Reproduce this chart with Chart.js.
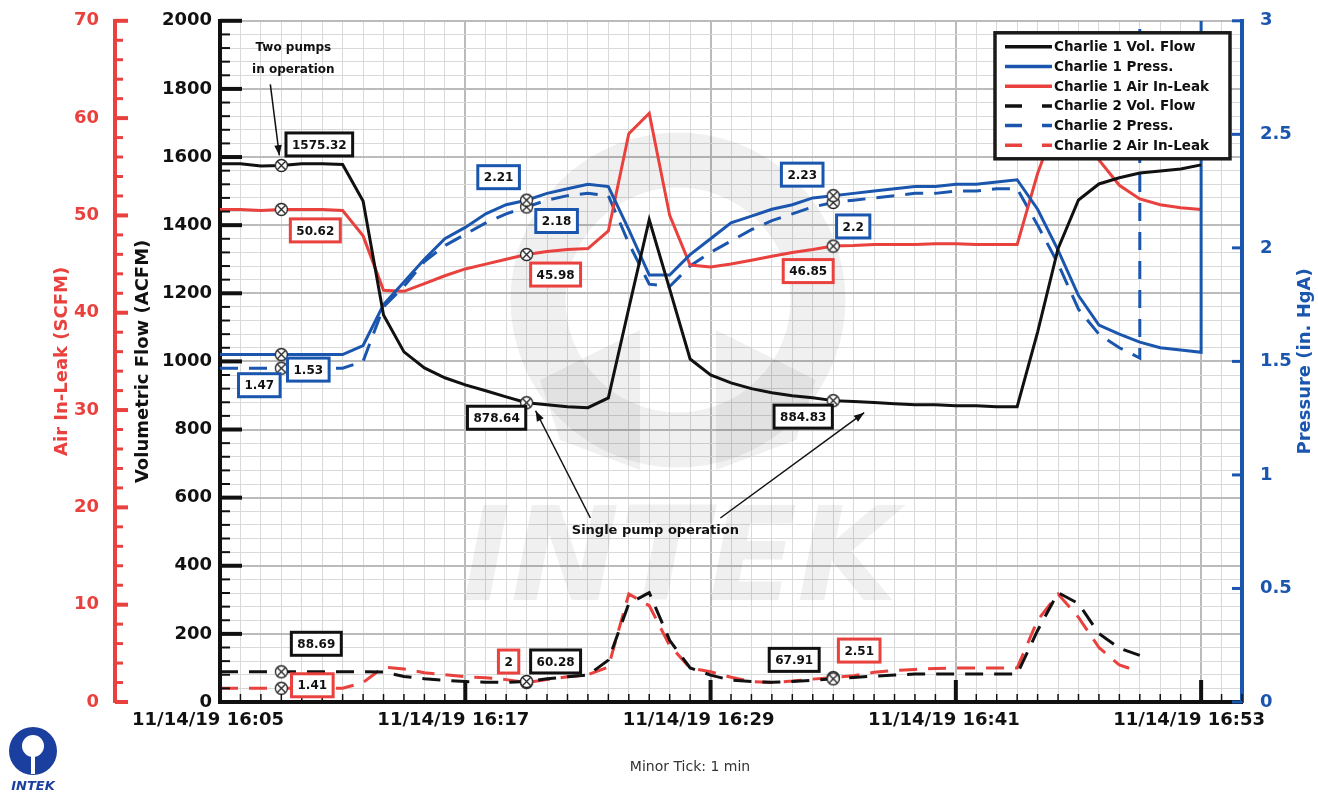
<!DOCTYPE html>
<html>
<head>
<meta charset="utf-8">
<script src="https://cdn.jsdelivr.net/npm/chart.js@4.4.1/dist/chart.umd.min.js"></script>
<style>
  body { margin: 0; background: #fff; }
  #wrap { position: relative; width: 1318px; height: 794px; }
</style>
</head>
<body>
<div id="wrap"><canvas id="chart"></canvas></div>
<script>
// minutes after 11/14/19 16:05
const minutes = [0,1,2,3,4,5,6,7,8,9,10,11,12,13,14,15,16,17,18,19,20,21,22,23,24,
  25,26,27,28,29,30,31,32,33,34,35,36,37,38,39,40,41,42,43,44,45,46,47,48]

const xTickLabels = ['11/14/19 16:05', '11/14/19 16:17', '11/14/19 16:29', '11/14/19 16:41', '11/14/19 16:53']

// Charlie 1 (minutes 0..48)
const c1Flow = [1580,1580,1574,1575.32,1580,1580,1578,1471,1136,1028,981,952,931,914,896,878.64,
  873,867,864,893,1156,1416,1212,1007,960,937,920,908,899,893,884.83,882,879,876,873,873,870,870,
  867,867,1086,1331,1474,1521,1539,1553,1559,1565,1577]
const c1Press = [1.53,1.53,1.53,1.53,1.53,1.53,1.53,1.57,1.75,1.85,1.95,2.04,2.09,2.15,2.19,2.21,
  2.24,2.26,2.28,2.27,2.08,1.88,1.88,1.97,2.04,2.11,2.14,2.17,2.19,2.22,2.23,2.24,2.25,2.26,2.27,
  2.27,2.28,2.28,2.29,2.30,2.17,1.99,1.79,1.66,1.62,1.585,1.56,1.55,1.54]
const c1Air = [50.6,50.6,50.5,50.62,50.6,50.6,50.5,47.9,42.3,42.2,43.0,43.8,44.5,45.0,45.5,45.98,
  46.3,46.5,46.6,48.4,58.4,60.5,50.0,44.9,44.7,45.0,45.4,45.8,46.2,46.5,46.85,46.9,47.0,47.0,47.0,
  47.1,47.1,47.0,47.0,47.0,54.3,60.0,59.5,55.7,53.1,51.7,51.1,50.8,50.6]
// pressure trace jumps off scale when the unit stops
const c1PressEndMin = [48]
const c1PressEndVal = [3]

// Charlie 2 (minutes 0..45)
const c2Flow = [88.69,88.69,88.69,88.69,88.69,88.69,88.69,88.69,88,75,68,64,60,58,58,60.28,
  68,74,79,123,289,321,181,100,79,64,60,58,60,64,67.91,72,76,79,82,82,82,82,82,82,
  210,321,289,201,158,137]
const c2Press = [1.47,1.47,1.47,1.47,1.47,1.47,1.47,1.50,1.74,1.83,1.94,2.01,2.06,2.11,2.15,2.18,
  2.21,2.23,2.24,2.23,2.02,1.84,1.83,1.92,1.98,2.03,2.08,2.12,2.15,2.18,2.2,2.21,2.22,2.23,2.24,
  2.24,2.25,2.25,2.26,2.26,2.10,1.93,1.73,1.62,1.56,1.515]
const c2Air = [1.41,1.41,1.41,1.41,1.41,1.41,1.41,2.0,3.6,3.4,3.0,2.8,2.6,2.5,2.3,2,
  2.3,2.6,2.8,3.6,11.1,9.9,5.8,3.5,3.1,2.55,2.1,2.0,2.15,2.35,2.51,2.7,3.05,3.25,3.35,3.45,
  3.5,3.5,3.5,3.5,8.4,11.1,8.7,5.6,3.8,3.1]
const c2PressEndMin = [45]
const c2PressEndVal = [3]

// minutes where values are tagged on the chart
const markIdx = [3, 15, 30]

const FONT = '"DejaVu Sans", Verdana, sans-serif'
const BLACK = '#111111'
const BLUE = '#1b56ae'
const RED = '#e8413e'
const GRID_MINOR = '#d9d9d9'
const GRID_MAJOR = '#bbbbbb'
const DASH = [18, 11]

Chart.defaults.font.family = FONT

function pts(xs, ys) {
  return ys.map((y, i) => ({x: xs[i], y: y}))
}

// crossed circle used for tagged points
const marker = document.createElement('canvas')
marker.width = 15
marker.height = 15
{
  let m = marker.getContext('2d')
  m.fillStyle = '#fff'
  m.strokeStyle = '#222'
  m.lineWidth = 1.3
  m.beginPath(); m.arc(7.5, 7.5, 6, 0, Math.PI * 2); m.fill(); m.stroke()
  m.beginPath()
  m.moveTo(3.3, 3.3); m.lineTo(11.7, 11.7)
  m.moveTo(11.7, 3.3); m.lineTo(3.3, 11.7)
  m.stroke()
}

function series(label, data, axis, color, dashed) {
  return {
    label: label,
    data: data,
    yAxisID: axis,
    borderColor: color,
    backgroundColor: color,
    borderWidth: 3,
    borderDash: dashed ? DASH : [],
    tension: 0,
    fill: false,
    pointRadius: c => markIdx.includes(c.dataIndex) ? 7 : 0,
    pointStyle: c => markIdx.includes(c.dataIndex) ? marker : 'circle',
    pointHoverRadius: 0,
  }
}

// tag boxes: [dataset, point, dx, dy]
const valueTags = [
  [0, 3, 38, -21], [2, 3, 34, 21], [1, 3, 27, 15], [4, 3, -22, 17], [3, 3, 35, -28], [5, 3, 31, -3],
  [1, 15, -28, -23], [4, 15, 30, 14], [2, 15, 29, 20], [0, 15, -30, 15], [5, 15, -18, -21], [3, 15, 29, -20],
  [1, 30, -31, -21], [4, 30, 20, 24], [2, 30, -25, 25], [0, 30, -30, 16], [3, 30, -39, -19], [5, 30, 26, -27]
]

function line(ctx, x1, y1, x2, y2) {
  ctx.beginPath(); ctx.moveTo(x1, y1); ctx.lineTo(x2, y2); ctx.stroke()
}

function arrow(ctx, x1, y1, x2, y2) {
  ctx.strokeStyle = BLACK
  ctx.fillStyle = BLACK
  ctx.lineWidth = 1.5
  line(ctx, x1, y1, x2, y2)
  let a = Math.atan2(y2 - y1, x2 - x1)
  ctx.beginPath()
  ctx.moveTo(x2, y2)
  ctx.lineTo(x2 - 11 * Math.cos(a - 0.35), y2 - 11 * Math.sin(a - 0.35))
  ctx.lineTo(x2 - 11 * Math.cos(a + 0.35), y2 - 11 * Math.sin(a + 0.35))
  ctx.closePath()
  ctx.fill()
}

const decorations = {
  id: 'decorations',
  beforeDatasetsDraw(chart) {
    const {ctx, chartArea: a} = chart
    // faint watermark logo
    ctx.save()
    ctx.beginPath(); ctx.rect(a.left, a.top, a.right - a.left, a.bottom - a.top); ctx.clip()
    ctx.strokeStyle = 'rgba(0,0,0,0.06)'
    ctx.fillStyle = 'rgba(0,0,0,0.06)'
    ctx.lineWidth = 55
    ctx.beginPath(); ctx.arc(678, 300, 140, 0, Math.PI * 2); ctx.stroke()
    ctx.beginPath()
    ctx.moveTo(540, 380); ctx.lineTo(640, 330); ctx.lineTo(640, 470); ctx.lineTo(560, 440)
    ctx.closePath(); ctx.fill()
    ctx.beginPath()
    ctx.moveTo(816, 380); ctx.lineTo(716, 330); ctx.lineTo(716, 470); ctx.lineTo(796, 440)
    ctx.closePath(); ctx.fill()
    ctx.font = 'italic bold 130px ' + FONT
    ctx.textAlign = 'center'
    ctx.textBaseline = 'alphabetic'
    ctx.fillText('INTEK', 680, 600)
    ctx.restore()
  },
  afterDatasetsDraw(chart) {
    const {ctx, chartArea: a, scales} = chart
    ctx.save()

    // inward tick marks
    const sx = scales.x
    ctx.strokeStyle = BLACK
    sx.ticks.forEach(t => {
      let px = sx.getPixelForValue(t.value)
      let major = t.value % 12 === 0
      ctx.lineWidth = major ? 4 : 1.5
      line(ctx, px, a.bottom, px, a.bottom - (major ? 22 : 8))
    })
    const sf = scales.yFlow
    sf.ticks.forEach(t => {
      let py = sf.getPixelForValue(t.value)
      let major = t.value % 200 === 0
      ctx.lineWidth = major ? 4 : 2
      line(ctx, a.left, py, a.left + (major ? 22 : 10), py)
    })
    const sa = scales.yAir
    ctx.strokeStyle = RED
    sa.ticks.forEach(t => {
      let py = sa.getPixelForValue(t.value)
      let major = t.value % 10 === 0
      ctx.lineWidth = major ? 4 : 3
      line(ctx, sa.right, py, sa.right + (major ? 13 : 8), py)
    })
    const sp = scales.yP
    ctx.strokeStyle = BLUE
    sp.ticks.forEach(t => {
      let py = sp.getPixelForValue(t.value)
      ctx.lineWidth = 3
      line(ctx, a.right, py, a.right - 10, py)
    })

    // value tags
    ctx.font = 'bold 12px ' + FONT
    ctx.textAlign = 'center'
    ctx.textBaseline = 'middle'
    valueTags.forEach(([di, pi, dx, dy]) => {
      let ds = chart.data.datasets[di]
      let el = chart.getDatasetMeta(di).data[pi]
      let txt = String(ds.data[pi].y)
      let w = ctx.measureText(txt).width + 12
      let h = 23
      let cx = el.x + dx, cy = el.y + dy
      ctx.fillStyle = '#fff'
      ctx.fillRect(cx - w / 2, cy - h / 2, w, h)
      ctx.strokeStyle = ds.borderColor
      ctx.lineWidth = 3
      ctx.strokeRect(cx - w / 2, cy - h / 2, w, h)
      ctx.fillStyle = BLACK
      ctx.fillText(txt, cx, cy + 1)
    })

    // text notes with arrows
    const p0 = chart.getDatasetMeta(0).data
    ctx.fillStyle = BLACK
    ctx.font = 'bold 12px ' + FONT
    ctx.fillText('Two pumps', p0[3].x + 12, p0[3].y - 118)
    ctx.fillText('in operation', p0[3].x + 12, p0[3].y - 96)
    arrow(ctx, p0[3].x - 11, p0[3].y - 81, p0[3].x - 2, p0[3].y - 10)

    let nx = sx.getPixelForValue(21.3), ny = sf.getPixelForValue(502)
    ctx.fillStyle = BLACK
    ctx.font = 'bold 13px ' + FONT
    ctx.fillText('Single pump operation', nx, ny)
    arrow(ctx, nx - 65, ny - 13, p0[15].x + 9, p0[15].y + 8)
    arrow(ctx, nx + 65, ny - 13, p0[30].x + 31, p0[30].y + 12)

    // legend box
    const lw = 235, lh = 126
    const lx = a.right - 12 - lw, ly = a.top + 12
    ctx.fillStyle = '#fff'
    ctx.fillRect(lx, ly, lw, lh)
    ctx.strokeStyle = '#1a1a1a'
    ctx.lineWidth = 3.5
    ctx.strokeRect(lx, ly, lw, lh)
    ctx.font = 'bold 13.5px ' + FONT
    ctx.textAlign = 'left'
    chart.data.datasets.forEach((ds, i) => {
      let yy = ly + 14 + i * 19.7
      ctx.strokeStyle = ds.borderColor
      ctx.lineWidth = 3.5
      ctx.setLineDash(ds.borderDash.length ? [17, 20] : [])
      line(ctx, lx + 10, yy, lx + 57, yy)
      ctx.setLineDash([])
      ctx.fillStyle = BLACK
      ctx.fillText(ds.label, lx + 59, yy + 1)
    })

    // right axis title, reading bottom to top
    ctx.save()
    ctx.translate(a.right + 63, (a.top + a.bottom) / 2)
    ctx.rotate(-Math.PI / 2)
    ctx.fillStyle = BLUE
    ctx.font = 'bold 18px ' + FONT
    ctx.textAlign = 'center'
    ctx.fillText('Pressure (in. HgA)', 0, 0)
    ctx.restore()

    // footer
    ctx.fillStyle = '#333'
    ctx.font = '14px ' + FONT
    ctx.textAlign = 'center'
    ctx.fillText('Minor Tick: 1 min', 690, 767)

    // small logo
    ctx.fillStyle = '#1b3f9e'
    ctx.beginPath(); ctx.arc(33, 751, 24, 0, Math.PI * 2); ctx.fill()
    ctx.fillStyle = '#fff'
    ctx.beginPath(); ctx.arc(33, 746, 11, 0, Math.PI * 2); ctx.fill()
    ctx.fillRect(31, 756, 4, 18)
    ctx.fillStyle = '#1b3f9e'
    ctx.font = 'italic bold 13px ' + FONT
    ctx.fillText('INTEK', 33, 787)

    ctx.restore()
  }
}

const datasets = [
  series('Charlie 1 Vol. Flow', pts(minutes, c1Flow), 'yFlow', BLACK, false),
  series('Charlie 1 Press.', pts(minutes, c1Press).concat(pts(c1PressEndMin, c1PressEndVal)), 'yP', BLUE, false),
  series('Charlie 1 Air In-Leak', pts(minutes, c1Air), 'yAir', RED, false),
  series('Charlie 2 Vol. Flow', pts(minutes, c2Flow), 'yFlow', BLACK, true),
  series('Charlie 2 Press.', pts(minutes, c2Press).concat(pts(c2PressEndMin, c2PressEndVal)), 'yP', BLUE, true),
  series('Charlie 2 Air In-Leak', pts(minutes, c2Air), 'yAir', RED, true),
]

const tickFont = {size: 18, weight: 'bold'}

new Chart(document.getElementById('chart'), {
  type: 'line',
  data: {datasets: datasets},
  plugins: [decorations],
  options: {
    responsive: true,
    maintainAspectRatio: false,
    animation: false,
    events: [],
    layout: {padding: {left: 52, top: 17, right: 0, bottom: 0}},
    plugins: {legend: {display: false}, tooltip: {enabled: false}},
    scales: {
      x: {
        type: 'linear', min: 0, max: 50,
        afterFit: s => { s.height = 92 },
        ticks: {
          stepSize: 1, autoSkip: false, maxRotation: 0, minRotation: 0,
          padding: 8, labelOffset: -12, color: BLACK, font: tickFont,
          callback: v => v % 12 === 0 ? xTickLabels[v / 12] : ''
        },
        grid: {
          drawTicks: false,
          color: c => c.tick && c.tick.value % 12 === 0 ? GRID_MAJOR : GRID_MINOR,
          lineWidth: c => c.tick && c.tick.value % 12 === 0 ? 2 : 1
        },
        border: {color: BLACK, width: 4}
      },
      yAir: {
        position: 'left', weight: 1, min: 0, max: 70,
        afterFit: s => { s.width = 63 },
        ticks: {
          stepSize: 2, autoSkip: false, padding: 8, color: RED, font: tickFont,
          callback: v => v % 10 === 0 ? v : ''
        },
        grid: {display: false},
        border: {color: RED, width: 4},
        title: {display: true, text: 'Air In-Leak (SCFM)', color: RED, font: tickFont, padding: {top: 0, bottom: 0}}
      },
      yFlow: {
        position: 'left', weight: 0, min: 0, max: 2000,
        afterFit: s => { s.width = 105 },
        ticks: {
          stepSize: 40, autoSkip: false, padding: 8, color: BLACK, font: tickFont,
          callback: v => v % 200 === 0 ? v : ''
        },
        grid: {
          drawTicks: false,
          color: c => c.tick && c.tick.value % 200 === 0 ? GRID_MAJOR : GRID_MINOR,
          lineWidth: c => c.tick && c.tick.value % 200 === 0 ? 2 : 1
        },
        border: {color: BLACK, width: 4},
        title: {display: true, text: 'Volumetric Flow (ACFM)', color: BLACK, font: tickFont, padding: {top: 18, bottom: 0}}
      },
      yP: {
        position: 'right', min: 0, max: 3,
        afterFit: s => { s.width = 76 },
        ticks: {stepSize: 0.5, autoSkip: false, padding: 10, color: BLUE, font: tickFont, callback: v => String(v)},
        grid: {display: false},
        border: {color: BLUE, width: 4}
      }
    }
  }
})
</script>
</body>
</html>
